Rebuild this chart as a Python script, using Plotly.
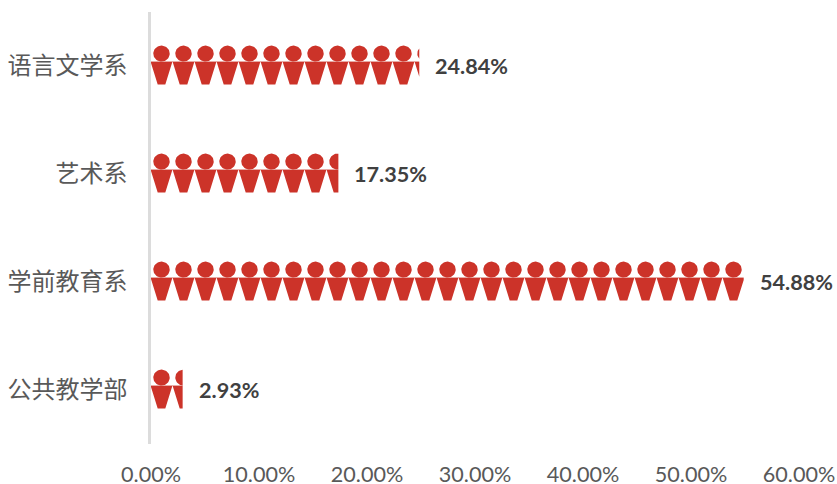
import math
import plotly.graph_objects as go

categories = ["语言文学系", "艺术系", "学前教育系", "公共教学部"]
values = [24.84, 17.35, 54.88, 2.93]
labels = ["24.84%", "17.35%", "54.88%", "2.93%"]
x_ticks = [0, 10, 20, 30, 40, 50, 60]
x_tick_labels = ["0.00%", "10.00%", "20.00%", "30.00%", "40.00%", "50.00%", "60.00%"]

W, H = 837, 484
L, R, T, B = 151, 38, 12, 40
XMAX = 60
px_x = (W - L - R) / XMAX     # px per percent
px_y = (H - T - B) / len(categories)  # px per category band
RED = "#cc3329"
PINK = "#e8aaa5"
UNIT = 22 / px_x              # icon repeat, in percent


def clip(poly, xmax):
    out = []
    for i, (x0, y0) in enumerate(poly):
        x1, y1 = poly[(i + 1) % len(poly)]
        in0, in1 = x0 <= xmax, x1 <= xmax
        if in0:
            out.append((x0, y0))
        if in0 != in1:
            t = (xmax - x0) / (x1 - x0)
            out.append((xmax, y0 + t * (y1 - y0)))
    return out


def add(xs, ys, poly):
    if poly:
        poly = poly + [poly[0]]
        xs += [p[0] for p in poly] + [None]
        ys += [p[1] for p in poly] + [None]


def row_shapes(center, value):
    xs, ys = [], []
    n = math.ceil(value / UNIT)
    for i in range(n):
        cx = (i + 0.5) * UNIT - 0.5 / px_x
        head = [(cx + 8.2 / px_x * math.cos(a * math.pi / 24),
                 center + (12.4 + 8.0 * math.sin(a * math.pi / 24)) / px_y) for a in range(48)]
        body = [(cx - 10.8 / px_x, center + 4 / px_y),
                (cx + 10.8 / px_x, center + 4 / px_y),
                (cx + 3.8 / px_x, center - 18.4 / px_y),
                (cx - 3.8 / px_x, center - 18.4 / px_y)]
        add(xs, ys, clip(head, value))
        add(xs, ys, clip(body, value))
    return xs, ys


fig = go.Figure()
nrows = len(categories)
centers = [nrows - 0.5 - i for i in range(nrows)]
for name, val, c in zip(categories, values, centers):
    xs, ys = row_shapes(c, val)
    end = UNIT * math.ceil(val / UNIT)
    band = clip([(0, c + 5 / px_y), (end, c + 5 / px_y),
                 (end, c + 4 / px_y), (0, c + 4 / px_y)], val)
    fig.add_trace(go.Scatter(x=[p[0] for p in band] + [band[0][0]],
                             y=[p[1] for p in band] + [band[0][1]],
                             mode="lines", fill="toself", fillcolor=PINK,
                             line=dict(width=0), hoverinfo="skip", showlegend=False))
    fig.add_trace(go.Scatter(x=xs, y=ys, mode="lines", fill="toself", fillcolor=RED,
                             line=dict(width=0), name=name, hoverinfo="skip", showlegend=False))

for lab, val, c in zip(labels, values, centers):
    fig.add_annotation(x=val, y=c, text=f"<b>{lab}</b>", xref="x", yref="y",
                       xanchor="left", yanchor="middle", xshift=14, showarrow=False,
                       font=dict(family="Lato", size=21.6, color="#404040"))

fig.update_layout(
    width=W, height=H, margin=dict(l=L, r=R, t=T, b=B, autoexpand=False),
    paper_bgcolor="white", plot_bgcolor="white", showlegend=False,
    xaxis=dict(range=[0, XMAX], tickvals=x_ticks, ticktext=x_tick_labels, showgrid=False,
               zeroline=False, showline=False, ticks="", automargin=False,
               ticklabelstandoff=15,
               tickfont=dict(family="Lato", size=21.6, color="#595959")),
    yaxis=dict(range=[0, nrows], tickvals=centers, ticktext=categories, showgrid=False,
               zeroline=False, showline=True, linecolor="#dcdcdc", linewidth=2.5, ticks="",
               ticklabelstandoff=16, automargin=False,
               tickfont=dict(family="Noto Sans CJK SC", size=24, color="#595959")),
)
fig.write_html("out.html", post_script="document.body.style.margin='0';",
               config=dict(displayModeBar=False))
